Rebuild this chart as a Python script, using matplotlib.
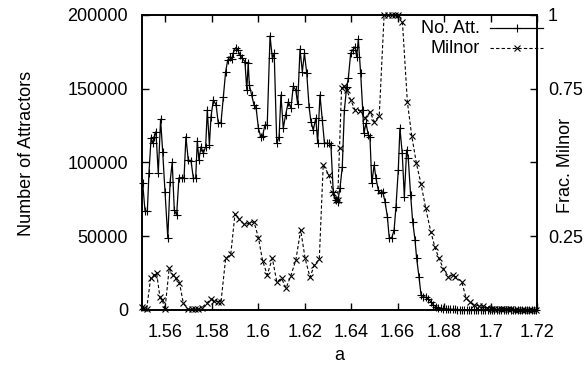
import matplotlib
matplotlib.use("Agg")
import matplotlib.pyplot as plt
from matplotlib.lines import Line2D

plt.rcParams['font.family'] = ['Liberation Sans', 'DejaVu Sans']

# ---- data ----
att_a = [1.5503, 1.5513, 1.5523, 1.5530, 1.5539, 1.5546, 1.5552, 1.5560, 1.5570, 1.5580,
         1.5589, 1.5599, 1.5611, 1.5621, 1.5630, 1.5639, 1.5649, 1.5659, 1.5671, 1.5681,
         1.5689, 1.5699, 1.5711, 1.5721, 1.5731, 1.5738, 1.5745, 1.5754, 1.5764, 1.5774,
         1.5781, 1.5790, 1.5797, 1.5807, 1.5819, 1.5828, 1.5840, 1.5850, 1.5860, 1.5869,
         1.5879, 1.5886, 1.5893, 1.5903, 1.5912, 1.5922, 1.5932, 1.5943, 1.5951, 1.5957,
         1.5962, 1.5972, 1.5982, 1.5991, 1.6001, 1.6011, 1.6019, 1.6029, 1.6039, 1.6051,
         1.6061, 1.6069, 1.6080, 1.6090, 1.6098, 1.6108, 1.6118, 1.6130, 1.6141, 1.6151,
         1.6162, 1.6170, 1.6180, 1.6190, 1.6199, 1.6209, 1.6219, 1.6227, 1.6237, 1.6248,
         1.6256, 1.6266, 1.6276, 1.6285, 1.6295, 1.6305, 1.6313, 1.6323, 1.6334, 1.6342,
         1.6352, 1.6362, 1.6371, 1.6381, 1.6388, 1.6398, 1.6407, 1.6417, 1.6424, 1.6431,
         1.6441, 1.6450, 1.6455, 1.6464, 1.6474, 1.6481, 1.6489, 1.6499, 1.6507, 1.6517,
         1.6527, 1.6536, 1.6546, 1.6556, 1.6564, 1.6575, 1.6585, 1.6593, 1.6603, 1.6610,
         1.6620, 1.6629, 1.6639, 1.6646, 1.6656, 1.6665, 1.6675, 1.6682, 1.6692, 1.6701,
         1.6711, 1.6721, 1.6732, 1.6743, 1.6754, 1.6765, 1.6775, 1.6787, 1.6797, 1.6807,
         1.6817, 1.6827, 1.6837, 1.6847, 1.6857, 1.6867, 1.6877, 1.6887, 1.6897, 1.6907,
         1.6917, 1.6927, 1.6937, 1.6947, 1.6957, 1.6967, 1.6977, 1.6987, 1.6997, 1.7007,
         1.7017, 1.7027, 1.7037, 1.7047, 1.7057, 1.7067, 1.7077, 1.7087, 1.7097, 1.7107,
         1.7117, 1.7127, 1.7137, 1.7147, 1.7157, 1.7167, 1.7177, 1.7187, 1.7197]
att_n = [85900, 67100, 67100, 93100, 116400, 113000, 117500, 120900, 92700, 129300,
         107300, 80200, 49000, 87000, 100100, 67800, 64400, 89700, 89700, 89700,
         117500, 101700, 101200, 89300, 89300, 114600, 101700, 110700, 106200, 110700,
         135600, 111900, 131100, 142400, 139000, 127000, 127000, 144600, 161600, 169500,
         171700, 170200, 174500, 177800, 176300, 172900, 170600, 168300, 149200, 167300,
         152500, 145800, 139000, 137200, 123200, 117500, 118000, 125400, 125400, 185800,
         170600, 174000, 113000, 117500, 145800, 123200, 132200, 141200, 136800, 151600,
         149200, 139500, 176800, 161600, 174000, 160500, 137800, 127700, 122000, 130000,
         113400, 145800, 128800, 113400, 113000, 113000, 111900, 80200, 74600, 73400,
         82500, 97200, 135600, 151400, 157100, 174000, 176300, 178500, 171700, 183500,
         160500, 135600, 119800, 126600, 118700, 117500, 85900, 98300, 89300, 81400,
         79100, 80200, 73400, 63300, 49000, 49000, 54200, 70000, 94900, 123200,
         106200, 76800, 108500, 102800, 78000, 59900, 47500, 35100, 22600, 10200,
         9000, 8600, 7500, 5600, 3400, 2200, 1600, 1200, 900, 700,
         600, 500, 400, 400, 300, 300, 200, 200, 200, 150,
         150, 100, 100, 100, 100, 100, 80, 80, 60, 60,
         50, 50, 50, 40, 40, 40, 30, 30, 30, 20,
         20, 20, 20, 10, 10, 10, 0, 0, 0]

mil_a = [1.5500, 1.5509, 1.5520, 1.5537, 1.5553, 1.5563, 1.5577, 1.5587, 1.5599, 1.5617,
         1.5632, 1.5646, 1.5661, 1.5678, 1.5697, 1.5714, 1.5728, 1.5742, 1.5757, 1.5778,
         1.5796, 1.5810, 1.5828, 1.5840, 1.5860, 1.5882, 1.5900, 1.5919, 1.5940, 1.5962,
         1.5982, 1.6001, 1.6019, 1.6039, 1.6061, 1.6080, 1.6101, 1.6120, 1.6140, 1.6162,
         1.6183, 1.6202, 1.6223, 1.6242, 1.6263, 1.6280, 1.6304, 1.6323, 1.6334, 1.6342,
         1.6350, 1.6359, 1.6371, 1.6381, 1.6398, 1.6417, 1.6438, 1.6460, 1.6481, 1.6500,
         1.6521, 1.6542, 1.6557, 1.6575, 1.6589, 1.6603, 1.6621, 1.6642, 1.6661, 1.6681,
         1.6701, 1.6721, 1.6743, 1.6761, 1.6778, 1.6797, 1.6818, 1.6837, 1.6849, 1.6876,
         1.6895, 1.6912, 1.6930, 1.6952, 1.6966, 1.6984, 1.7002, 1.7015, 1.7030, 1.7045,
         1.7060, 1.7075, 1.7090, 1.7105, 1.7120, 1.7135, 1.7150, 1.7165, 1.7180, 1.7195]
mil_f = [0.011, 0.006, 0.003, 0.107, 0.119, 0.124, 0.045, 0.034, 0.003, 0.141,
         0.119, 0.107, 0.093, 0.023, 0.003, 0.003, 0.003, 0.003, 0.008, 0.023,
         0.036, 0.032, 0.028, 0.028, 0.175, 0.189, 0.324, 0.307, 0.290, 0.294,
         0.299, 0.245, 0.167, 0.119, 0.175, 0.096, 0.107, 0.074, 0.115, 0.169,
         0.271, 0.175, 0.111, 0.153, 0.172, 0.492, 0.458, 0.396, 0.373, 0.373,
         0.548, 0.752, 0.759, 0.746, 0.712, 0.678, 0.676, 0.650, 0.672, 0.638,
         0.658, 1.0, 1.0, 1.0, 1.0, 1.0, 0.975, 0.706, 0.590, 0.497,
         0.427, 0.345, 0.265, 0.212, 0.175, 0.140, 0.113, 0.119, 0.113, 0.096,
         0.040, 0.026, 0.017, 0.015, 0.014, 0.008, 0.005, 0.004, 0.003, 0.003,
         0.002, 0.002, 0.002, 0.001, 0.001, 0.001, 0.001, 0.001, 0.0, 0.0]

x_ticks = [1.56, 1.58, 1.60, 1.62, 1.64, 1.66, 1.68, 1.70, 1.72]
x_labels = ['1.56', '1.58', '1.6', '1.62', '1.64', '1.66', '1.68', '1.7', '1.72']
y_ticks = [0, 50000, 100000, 150000, 200000]
y2_ticks = [0, 0.25, 0.5, 0.75, 1.0]
y2_labels = ['', '0.25', '', '0.75', '1']

# ---- figure ----
fig = plt.figure(figsize=(5.85, 3.70), dpi=100)
ax = fig.add_axes([142 / 585, 60 / 370, 395 / 585, 295 / 370])
ax2 = ax.twinx()

ax.plot(att_a, att_n, color='black', lw=0.9, marker='+', ms=6, mew=0.8, clip_on=False)
ax2.plot(mil_a, mil_f, color='black', lw=0.8, ls=(0, (3, 2)), marker='x', ms=4.5, mew=0.8,
         clip_on=False)

ax.set_xlim(1.55, 1.72)
ax.set_ylim(0, 200000)
ax2.set_ylim(0, 1)

ax.set_xticks(x_ticks)
ax.set_xticklabels(x_labels)
ax.set_yticks(y_ticks)
ax.set_yticklabels([str(v) for v in y_ticks])
ax2.set_yticks(y2_ticks)
ax2.set_yticklabels(y2_labels)

fs = 13
ax.tick_params(axis='x', direction='in', top=True, length=5, width=1, labelsize=fs, pad=10)
ax.tick_params(axis='y', direction='in', length=5, width=1, labelsize=fs, pad=10)
ax2.tick_params(axis='y', direction='in', length=5, width=1, labelsize=fs, pad=8)
for sp in list(ax.spines.values()) + list(ax2.spines.values()):
    sp.set_linewidth(1.2)

ax.set_xlabel('a', fontsize=fs)
ax.xaxis.set_label_coords(0.5, -0.125)
ax.set_ylabel('Number of Attractors', fontsize=fs)
ax.yaxis.set_label_coords(-0.272, 0.53)
ax2.set_ylabel('Frac. Milnor', fontsize=fs)
ax2.yaxis.set_label_coords(1.05, 0.49)

# gnuplot-style key in the top-right corner
ax.text(0.856, 0.955, 'No. Att.', transform=ax.transAxes, ha='right', va='center', fontsize=fs)
ax.text(0.856, 0.888, 'Milnor', transform=ax.transAxes, ha='right', va='center', fontsize=fs)
ax.add_line(Line2D([0.881, 1.015], [0.955, 0.955], transform=ax.transAxes, color='black',
                   lw=0.9, clip_on=False))
ax.add_line(Line2D([0.949], [0.955], transform=ax.transAxes, color='black', marker='+',
                   ms=6, mew=0.8, clip_on=False))
ax.add_line(Line2D([0.881, 1.015], [0.888, 0.888], transform=ax.transAxes, color='black',
                   lw=0.8, ls=(0, (3, 2)), clip_on=False))
ax.add_line(Line2D([0.949], [0.888], transform=ax.transAxes, color='black', marker='x',
                   ms=4.5, mew=0.8, clip_on=False))

fig.savefig('out.png', dpi=100)
